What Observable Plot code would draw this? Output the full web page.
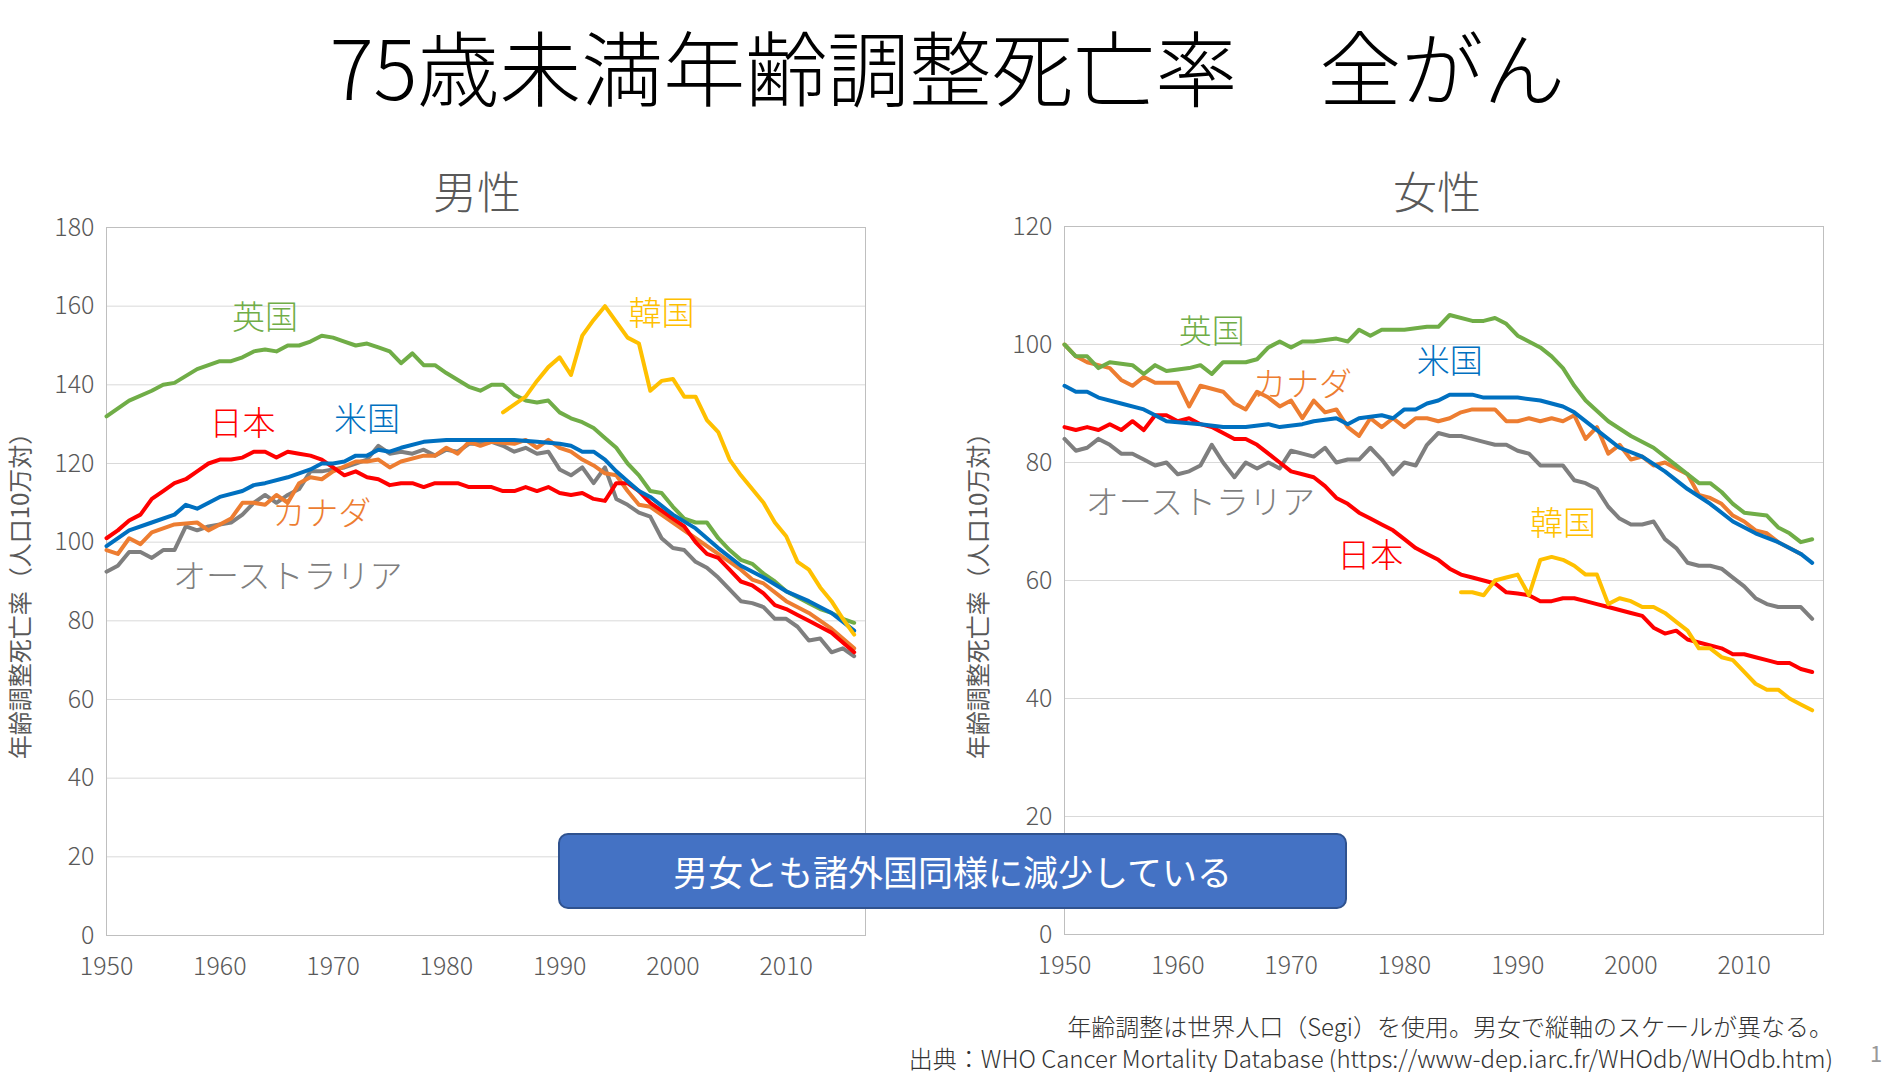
<!DOCTYPE html>
<html><head><meta charset="utf-8">
<script src="https://cdn.jsdelivr.net/npm/d3@7"></script>
<script src="https://cdn.jsdelivr.net/npm/@observablehq/plot@0.6"></script>
<style>
body{margin:0;width:1895px;height:1072px;background:#fff;font-family:"Noto Sans CJK JP",sans-serif;position:relative;overflow:hidden}
.abs{position:absolute}
.title{left:0;width:1895px;top:10px;text-align:center;font-size:82px;font-weight:300;color:#000;line-height:110px}
.sub{font-size:44px;color:#595959;transform:translateX(-50%);top:158px;font-weight:300}
.ylab{font-size:24px;color:#595959;transform:translate(-50%,-50%) rotate(-90deg);white-space:nowrap}
.box{left:558px;top:833px;width:785px;height:72px;background:#4472c4;border:2px solid #2f528f;border-radius:10px;color:#fff;font-size:35px;text-align:center;line-height:72px}
.foot{right:62px;font-size:24px;color:#333;text-align:right;font-weight:300}
</style></head><body>
<div class="abs title">75歳未満年齢調整死亡率　全がん</div>
<div class="abs sub" style="left:477px">男性</div>
<div class="abs sub" style="left:1437px">女性</div>
<div class="abs ylab" style="left:18px;top:590px">年齢調整死亡率（人口10万対）</div>
<div class="abs ylab" style="left:976px;top:590px">年齢調整死亡率（人口10万対）</div>
<div id="m" class="abs" style="left:36px;top:207px"></div>
<div id="f" class="abs" style="left:994px;top:206px"></div>
<div class="abs box">男女とも諸外国同様に減少している</div>
<div class="abs foot" style="top:1008px">年齢調整は世界人口（Segi）を使用。男女で縦軸のスケールが異なる。</div>
<div class="abs foot" style="top:1040px">出典：WHO Cancer Mortality Database (https://www-dep.iarc.fr/WHOdb/WHOdb.htm)</div>
<div class="abs" style="left:1870px;top:1036px;font-size:22px;color:#999">1</div>
<script>
const countries = ["英国","日本","米国","カナダ","オーストラリア","韓国"];
const colors = ["#70ad47","#ff0000","#0070c0","#ed7d31","#7f7f7f","#ffc000"];
const xTicks = [1950,1960,1970,1980,1990,2000,2010];
const maleTicks = [0,20,40,60,80,100,120,140,160,180];
const femaleTicks = [0,20,40,60,80,100,120];

// [year, value] pairs
const maleUK = [[1950,132],[1952,136],[1954,138.5],[1955,140],[1956,140.5],[1958,144],[1960,146],[1961,146],[1962,147],[1963,148.5],[1964,149],[1965,148.5],[1966,150],[1967,150],[1968,151],[1969,152.5],[1970,152],[1971,151],[1972,150],[1973,150.5],[1974,149.5],[1975,148.5],[1976,145.5],[1977,148],[1978,145],[1979,145],[1980,143],[1982,139.5],[1983,138.5],[1984,140],[1985,140],[1986,137.5],[1987,136],[1988,135.5],[1989,136],[1990,133],[1991,131.5],[1992,130.5],[1993,129],[1994,126.5],[1995,124],[1996,120],[1997,117],[1998,113],[1999,112.5],[2000,109],[2001,106],[2002,105],[2003,105],[2004,101],[2005,98],[2006,95.5],[2007,94.5],[2008,92],[2009,90],[2010,87.5],[2011,86],[2012,84.5],[2013,83],[2014,82],[2015,80.5],[2016,79.5]];
const maleJP = [[1950,101],[1951,103],[1952,105.5],[1953,107],[1954,111],[1955,113],[1956,115],[1957,116],[1958,118],[1959,120],[1960,121],[1961,121],[1962,121.5],[1963,123],[1964,123],[1965,121.5],[1966,123],[1967,122.5],[1968,122],[1969,121],[1970,119],[1971,117],[1972,118],[1973,116.5],[1974,116],[1975,114.5],[1976,115],[1977,115],[1978,114],[1979,115],[1980,115],[1981,115],[1982,114],[1983,114],[1984,114],[1985,113],[1986,113],[1987,114],[1988,113],[1989,114],[1990,112.5],[1991,112],[1992,112.5],[1993,111],[1994,110.5],[1995,115],[1996,115],[1997,113],[1998,110],[1999,108],[2000,106],[2001,104],[2002,100],[2003,97],[2004,96],[2005,93],[2006,90],[2007,89],[2008,87],[2009,84],[2010,83],[2011,81.5],[2012,80],[2013,78.5],[2014,77],[2015,74.5],[2016,72]];
const maleUS = [[1950,99],[1952,103],[1954,105],[1956,107],[1957,109.5],[1958,108.5],[1960,111.5],[1962,113],[1963,114.5],[1964,115],[1966,116.5],[1968,118.5],[1969,120],[1970,120],[1971,120.5],[1972,122],[1973,122],[1974,123.5],[1975,123],[1976,124],[1978,125.5],[1980,126],[1982,126],[1984,126],[1986,126],[1988,125.5],[1990,125],[1991,124.5],[1992,123],[1993,123],[1994,121],[1995,118],[1996,115.5],[1997,113],[1998,111.5],[2000,107],[2002,103.5],[2004,98.5],[2006,94],[2008,91],[2010,87.5],[2012,85],[2014,82],[2016,77.5]];
const maleCA = [[1950,98],[1951,97],[1952,101],[1953,99.5],[1954,102.5],[1956,104.5],[1958,105],[1959,103],[1960,104.5],[1961,106],[1962,110],[1963,110],[1964,109.5],[1965,112],[1966,110],[1967,115],[1968,116.5],[1969,116],[1970,118],[1972,120.5],[1973,120.5],[1974,121],[1975,119],[1976,120.5],[1978,122],[1979,122],[1980,124],[1981,122.5],[1982,125.5],[1983,124.5],[1984,125.5],[1986,125],[1987,126],[1988,124],[1989,126],[1990,124],[1991,123],[1992,121],[1993,119.5],[1994,117.5],[1995,117],[1996,113],[1997,109.5],[1998,109],[2000,105],[2002,101],[2004,97],[2006,93],[2007,90.5],[2008,89.5],[2010,85],[2012,82],[2014,78],[2016,73]];
const maleAU = [[1950,92.5],[1951,94],[1952,97.5],[1953,97.5],[1954,96],[1955,98],[1956,98],[1957,104],[1958,103],[1959,104],[1960,104.5],[1961,105],[1962,107],[1963,110],[1964,112],[1965,110],[1966,112],[1967,113.5],[1968,118],[1969,118],[1970,118.5],[1971,119],[1972,120],[1973,121],[1974,124.5],[1975,122.5],[1976,123],[1977,122.5],[1978,123.5],[1979,122],[1980,123.5],[1981,123],[1982,125],[1983,125],[1984,125.5],[1985,124.5],[1986,123],[1987,124],[1988,122.5],[1989,123],[1990,118.5],[1991,117],[1992,119],[1993,115],[1994,119],[1995,111],[1996,109.5],[1997,107.5],[1998,106.5],[1999,101],[2000,98.5],[2001,98],[2002,95],[2003,93.5],[2004,91],[2005,88],[2006,85],[2007,84.5],[2008,83.5],[2009,80.5],[2010,80.5],[2011,78.5],[2012,75],[2013,75.5],[2014,72],[2015,73],[2016,71]];
const maleKR = [[1985,133],[1987,137],[1988,141],[1989,144.5],[1990,147],[1991,142.5],[1992,152.5],[1993,156.5],[1994,160],[1995,156],[1996,152],[1997,150.5],[1998,138.5],[1999,141],[2000,141.5],[2001,137],[2002,137],[2003,131],[2004,128],[2005,121],[2006,117],[2007,113.5],[2008,110],[2009,105],[2010,101.5],[2011,95],[2012,93],[2013,88.5],[2014,85],[2015,80.5],[2016,76.5]];

const femUK = [[1950,100],[1951,98],[1952,98],[1953,96],[1954,97],[1956,96.5],[1957,95],[1958,96.5],[1959,95.5],[1961,96],[1962,96.5],[1963,95],[1964,97],[1966,97],[1967,97.5],[1968,99.5],[1969,100.5],[1970,99.5],[1971,100.5],[1972,100.5],[1974,101],[1975,100.5],[1976,102.5],[1977,101.5],[1978,102.5],[1980,102.5],[1982,103],[1983,103],[1984,105],[1986,104],[1987,104],[1988,104.5],[1989,103.5],[1990,101.5],[1992,99.5],[1993,98],[1994,96],[1995,93],[1996,90.5],[1998,87],[2000,84.5],[2002,82.5],[2004,79.5],[2006,76.5],[2007,76.5],[2008,75],[2009,73],[2010,71.5],[2012,71],[2013,69],[2014,68],[2015,66.5],[2016,67]];
const femJP = [[1950,86],[1951,85.5],[1952,86],[1953,85.5],[1954,86.5],[1955,85.5],[1956,87],[1957,85.5],[1958,88],[1959,88],[1960,87],[1961,87.5],[1962,86.5],[1963,86],[1964,85],[1965,84],[1966,84],[1967,83],[1968,81.5],[1969,80],[1970,78.5],[1971,78],[1972,77.5],[1973,76],[1974,74],[1975,73],[1976,71.5],[1977,70.5],[1978,69.5],[1979,68.5],[1980,67],[1981,65.5],[1982,64.5],[1983,63.5],[1984,62],[1985,61],[1986,60.5],[1987,60],[1988,59.5],[1989,58],[1990,57.8],[1991,57.5],[1992,56.5],[1993,56.5],[1994,57],[1995,57],[1996,56.5],[1997,56],[1998,55.5],[1999,55],[2000,54.5],[2001,54],[2002,52],[2003,51],[2004,51.5],[2005,50],[2006,49.5],[2007,49],[2008,48.5],[2009,47.5],[2010,47.5],[2011,47],[2012,46.5],[2013,46],[2014,46],[2015,45],[2016,44.5]];
const femUS = [[1950,93],[1951,92],[1952,92],[1953,91],[1955,90],[1957,89],[1958,88],[1959,87],[1962,86.5],[1964,86],[1966,86],[1968,86.5],[1969,86],[1971,86.5],[1972,87],[1974,87.5],[1975,86.5],[1976,87.5],[1978,88],[1979,87.5],[1980,89],[1981,89],[1982,90],[1983,90.5],[1984,91.5],[1986,91.5],[1987,91],[1990,91],[1992,90.5],[1994,89.5],[1995,88.5],[1997,85.5],[1999,82.5],[2001,81],[2003,78.5],[2005,75.5],[2007,73],[2009,70],[2011,68],[2013,66.5],[2015,64.5],[2016,63]];
const femCA = [[1950,100],[1951,98],[1952,97],[1953,96.5],[1954,96],[1955,94],[1956,93],[1957,94.5],[1958,93.5],[1960,93.5],[1961,89.5],[1962,93],[1964,92],[1965,90],[1966,89],[1967,92],[1968,91],[1969,89.5],[1970,90.5],[1971,87.5],[1972,90.5],[1973,88.5],[1974,89],[1975,86],[1976,84.5],[1977,87.5],[1978,86],[1979,87.5],[1980,86],[1981,87.5],[1982,87.5],[1983,87],[1984,87.5],[1985,88.5],[1986,89],[1988,89],[1989,87],[1990,87],[1991,87.5],[1992,87],[1993,87.5],[1994,87],[1995,88],[1996,84],[1997,86],[1998,81.5],[1999,83],[2000,80.5],[2001,81],[2002,79.5],[2003,80],[2004,79],[2005,78],[2006,74.5],[2007,74],[2008,73],[2009,71],[2010,70],[2011,68.5],[2012,68],[2013,66.5],[2014,65.5],[2015,64.5]];
const femAU = [[1950,84],[1951,82],[1952,82.5],[1953,84],[1954,83],[1955,81.5],[1956,81.5],[1957,80.5],[1958,79.5],[1959,80],[1960,78],[1961,78.5],[1962,79.5],[1963,83],[1964,80],[1965,77.5],[1966,80],[1967,79],[1968,80],[1969,79],[1970,82],[1971,81.5],[1972,81],[1973,82.5],[1974,80],[1975,80.5],[1976,80.5],[1977,82.5],[1978,80.5],[1979,78],[1980,80],[1981,79.5],[1982,83],[1983,85],[1984,84.5],[1985,84.5],[1986,84],[1987,83.5],[1988,83],[1989,83],[1990,82],[1991,81.5],[1992,79.5],[1993,79.5],[1994,79.5],[1995,77],[1996,76.5],[1997,75.5],[1998,72.5],[1999,70.5],[2000,69.5],[2001,69.5],[2002,70],[2003,67],[2004,65.5],[2005,63],[2006,62.5],[2007,62.5],[2008,62],[2009,60.5],[2010,59],[2011,57],[2012,56],[2013,55.5],[2014,55.5],[2015,55.5],[2016,53.5]];
const femKR = [[1985,58],[1986,58],[1987,57.5],[1988,60],[1989,60.5],[1990,61],[1991,57.5],[1992,63.5],[1993,64],[1994,63.5],[1995,62.5],[1996,61],[1997,61],[1998,56],[1999,57],[2000,56.5],[2001,55.5],[2002,55.5],[2003,54.5],[2004,53],[2005,51.5],[2006,48.5],[2007,48.5],[2008,47],[2009,46.5],[2010,44.5],[2011,42.5],[2012,41.5],[2013,41.5],[2014,40],[2015,39],[2016,38]];

// label anchors [country, year, value]
const maleLabels = [["英国",1964,157],["韓国",1999,158],["日本",1962,130],["米国",1973,131],["カナダ",1969,107],["オーストラリア",1966,91]];
const femLabels = [["英国",1963,102],["カナダ",1971,93],["米国",1984,97],["オーストラリア",1962,73],["日本",1977,64],["韓国",1994,69.5]];

function rows(series){
  const out=[];
  series.forEach((s,i)=>s.forEach(([x,y])=>out.push({c:countries[i],x,y})));
  return out;
}
function chart(series, yMax, yTicks, labels){
  const data = rows(series);
  const order = ["オーストラリア","カナダ","日本","英国","米国","韓国"];
  return Plot.plot({
    width:839, height:778, marginLeft:70, marginTop:20, marginBottom:50, marginRight:10,
    style:{fontFamily:"Noto Sans CJK JP, sans-serif", fontSize:"25px", color:"#595959", fontWeight:300, overflow:"visible"},
    x:{domain:[1950,2017], ticks:xTicks, tickFormat:d=>String(d), tickSize:0, label:null, tickPadding:22},
    y:{domain:[0,yMax], ticks:yTicks, tickSize:0, label:null, tickPadding:12},
    color:{domain:countries, range:colors},
    marks:[
      Plot.gridY(yTicks,{stroke:"#d9d9d9", strokeOpacity:1}),
      Plot.frame({stroke:"#bfbfbf"}),
      ...order.map(c=>Plot.line(data.filter(d=>d.c===c),{x:"x",y:"y",stroke:"c",strokeWidth:4,strokeLinejoin:"round"})),
      Plot.text(labels,{x:d=>d[1],y:d=>d[2],text:d=>d[0],fill:d=>d[0],fontSize:33}),
    ]
  });
}
document.getElementById("m").appendChild(chart([maleUK,maleJP,maleUS,maleCA,maleAU,maleKR],180,maleTicks,maleLabels));
document.getElementById("f").appendChild(chart([femUK,femJP,femUS,femCA,femAU,femKR],120,femaleTicks,femLabels));
</script>
</body></html>
